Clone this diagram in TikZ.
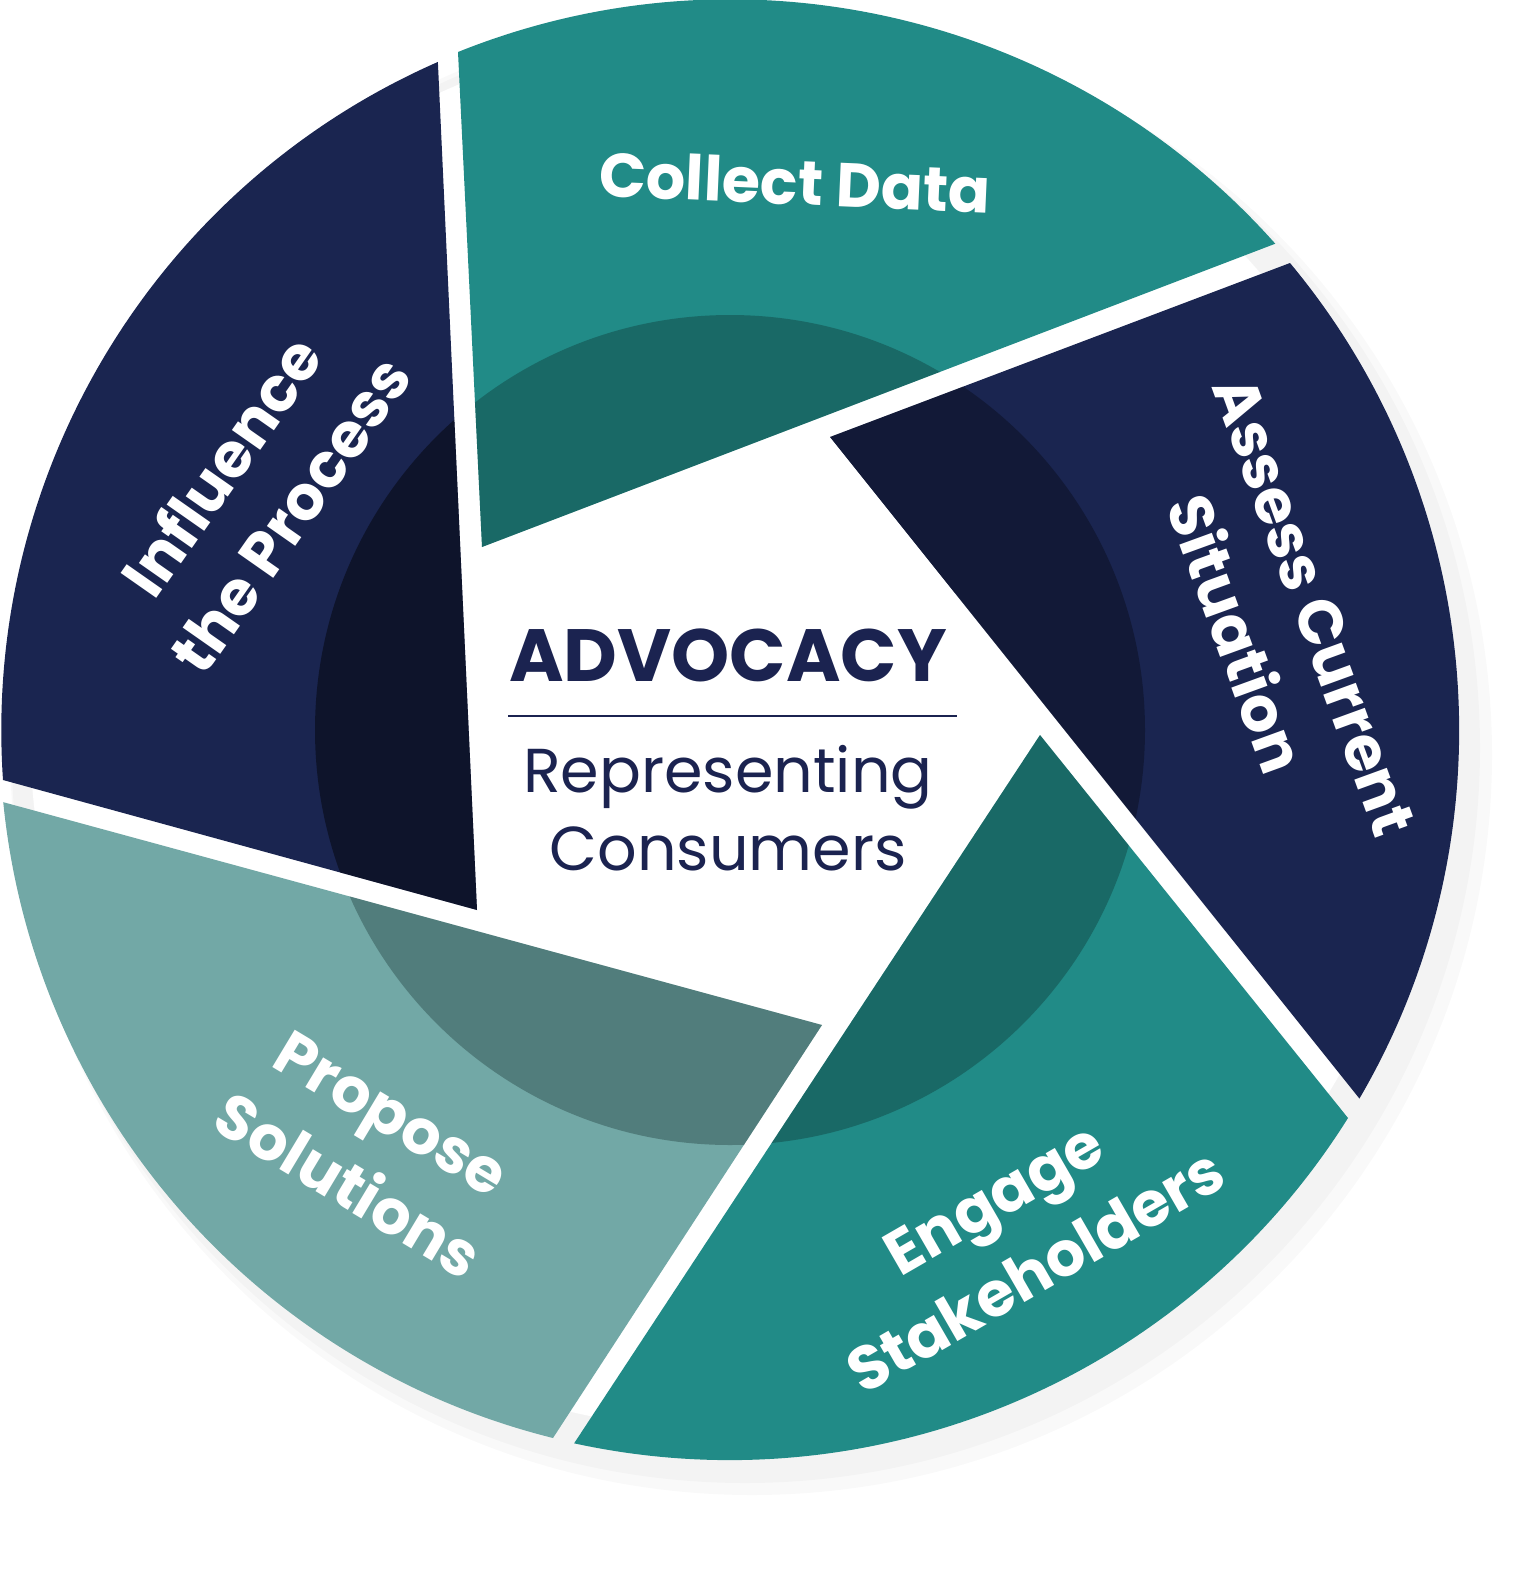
\documentclass[tikz,border=0pt]{standalone}
\usepackage{fontspec}
\setmainfont{Poppins}
\definecolor{teal1}{HTML}{218B87}
\definecolor{navy1}{HTML}{1A2550}
\definecolor{lteal}{HTML}{72A8A6}
\definecolor{txtnavy}{HTML}{1B2350}
\tikzset{lbl/.style={text=white,font=\bfseries\fontsize{31}{42}\selectfont,align=center}}
\begin{document}
\begin{tikzpicture}[x=0.5pt,y=0.5pt]
\useasboundingbox (0,0) rectangle (1534,-1580);
\coordinate (c) at (730,-730);
\def\segA{(458,-52) arc[start angle=111.9,end angle=41.7,radius=730] -- (482,-547) -- cycle}
\def\segB{(1290,-263) arc[start angle=39.8,end angle=-30.3,radius=730] -- (830,-437) -- cycle}
\def\segC{(1348,-1118) arc[start angle=-32.1,end angle=-102.3,radius=730] -- (1040,-735) -- cycle}
\def\segD{(553,-1438) arc[start angle=-104,end angle=-174.3,radius=730] -- (822,-1025) -- cycle}
\def\segE{(3,-780) arc[start angle=183.9,end angle=113.7,radius=730] -- (477,-910) -- cycle}
\fill[black,opacity=0.025] (752,-755) circle (740);
\fill[black,opacity=0.025] (745,-748) circle (735);
\fill[white] (c) circle (700);
\fill[teal1] \segA;
\fill[navy1] \segB;
\fill[teal1] \segC;
\fill[lteal] \segD;
\fill[navy1] \segE;
\begin{scope}\clip \segA; \fill[black!80!teal1,opacity=0.3] (c) circle (415);\end{scope}
\begin{scope}\clip \segC; \fill[black!80!teal1,opacity=0.3] (c) circle (415);\end{scope}
\begin{scope}\clip \segD; \fill[black!80!teal1,opacity=0.3] (c) circle (415);\end{scope}
\begin{scope}\clip \segB; \fill[black,opacity=0.3] (c) circle (415);\end{scope}
\begin{scope}\clip \segE; \fill[black,opacity=0.45] (c) circle (415);\end{scope}
\node[lbl,rotate=-2.5] (la) at (795,-182) {Collect Data};
\node[lbl,rotate=-70] (lb) at (1275,-620) {Assess Current\\Situation};
\node[lbl,rotate=30] (lc) at (1015,-1235) {Engage\\Stakeholders};
\node[lbl,rotate=-31] (ld) at (370,-1150) {Propose\\Solutions};
\node[lbl,rotate=55] (le) at (255,-490) {Influence\\the Process};
\node[text=txtnavy,font=\bfseries\fontsize{37}{40}\selectfont] (adv) at (728,-655) {ADVOCACY};
\coordinate (l1) at (508,-716); \coordinate (l2) at (957,-716);
\draw[txtnavy,line width=1pt] (l1) -- (l2);
\node[text=txtnavy,font=\fontsize{31}{39}\selectfont,align=center] (rep) at (728,-808) {Representing\\Consumers};
\end{tikzpicture}
\end{document}
